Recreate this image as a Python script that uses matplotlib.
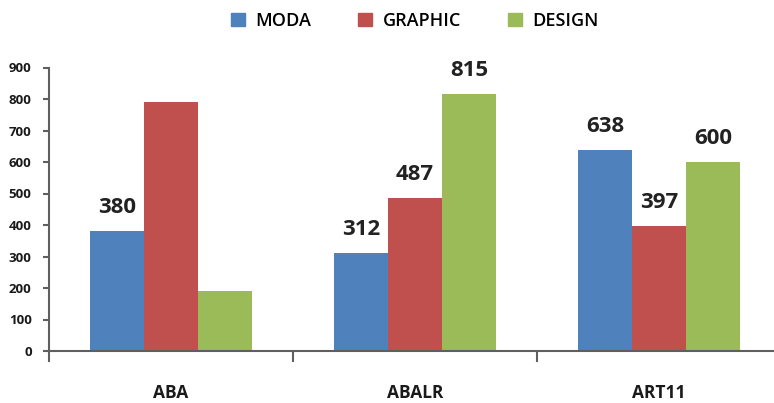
import numpy as np
import matplotlib
matplotlib.use("Agg")
import matplotlib.pyplot as plt
from matplotlib.patches import Patch

plt.rcParams['font.family'] = ['Open Sans', 'DejaVu Sans']

categories = ['ABA', 'ABALR', 'ART11']
series = ['MODA', 'GRAPHIC', 'DESIGN']
moda = [380, 312, 638]
graphic = [790, 487, 397]
design = [190, 815, 600]
# which bars carry a value label in the original
labels_moda = ['380', '312', '638']
labels_graphic = ['', '487', '397']
labels_design = ['', '815', '600']
yticks = [0, 100, 200, 300, 400, 500, 600, 700, 800, 900]

colors = ['#4F81BD', '#C0504D', '#9BBB59']
axis_col = '#5f5f5f'

fig = plt.figure(figsize=(7.74, 4.03), dpi=100)
# right edge of the axes runs past the figure, as in the reference
ax = fig.add_axes([49 / 774, 52 / 403, 732 / 774, 283.5 / 403])

x = np.arange(len(categories))
w = 0.221
data = [moda, graphic, design]
lbls = [labels_moda, labels_graphic, labels_design]
for i, (vals, lab) in enumerate(zip(data, lbls)):
    bars = ax.bar(x + (i - 1) * w, vals, w, color=colors[i], label=series[i], zorder=2)
    for b, t in zip(bars, lab):
        if t:
            ax.annotate(t, (b.get_x() + b.get_width() / 2, b.get_height()),
                        xytext=(0, 13), textcoords='offset points',
                        ha='center', va='baseline', fontsize=16, fontweight='bold',
                        color='#222222')

ax.set_xlim(-0.5, 2.5)
ax.set_ylim(0, 900)
ax.set_yticks(yticks)
ax.tick_params(axis='y', direction='out', length=4.5, width=1.5, color=axis_col,
               labelsize=9.5, pad=8)
for t in ax.get_yticklabels():
    t.set_fontweight('bold')
    t.set_color('#1a1a1a')

# category boundary ticks + centered labels
ax.set_xticks([-0.5, 0.5, 1.5, 2.5])
ax.set_xticklabels([])
ax.set_xticks(x, minor=True)
ax.set_xticklabels(categories, minor=True, fontsize=12.5, fontweight='bold', color='#1a1a1a')
ax.tick_params(axis='x', which='major', direction='out', length=8, width=1.5, color=axis_col)
ax.tick_params(axis='x', which='minor', length=0, pad=24)

for s in ['top', 'right']:
    ax.spines[s].set_visible(False)
for s in ['left', 'bottom']:
    ax.spines[s].set_color(axis_col)
    ax.spines[s].set_linewidth(1.5)

handles = [Patch(color=c) for c in colors]
fig.legend(handles, series, loc='center', bbox_to_anchor=(415 / 774, 1 - 21 / 403),
           ncol=3, frameon=False, handlelength=0.75, handleheight=0.75,
           handletextpad=0.6, columnspacing=2.6, prop={'weight': 'semibold', 'size': 13})

fig.savefig('out.png', dpi=100)
